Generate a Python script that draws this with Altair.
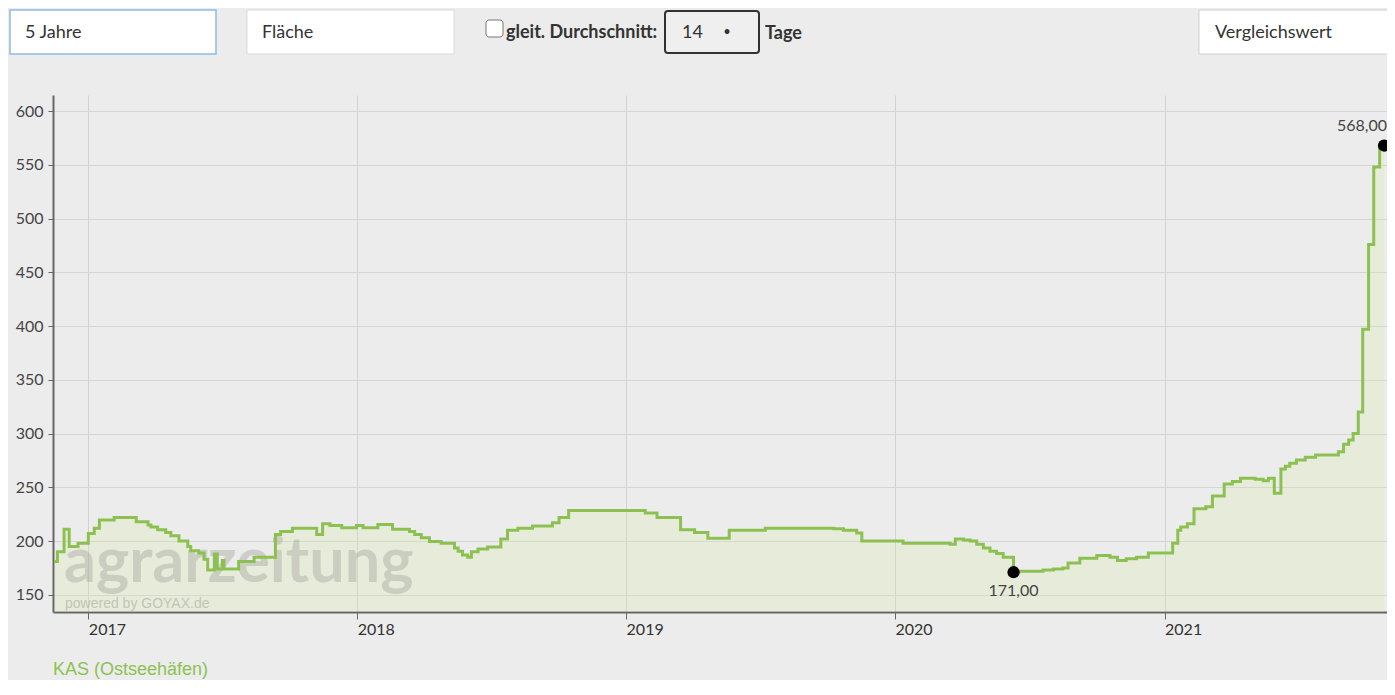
import altair as alt
import pandas as pd

# ---------------- data ----------------
dates = [
    "2016-11-16", "2016-11-20", "2016-11-29", "2016-12-06", "2016-12-18",
    "2017-01-01", "2017-01-09", "2017-01-16", "2017-02-05", "2017-03-07",
    "2017-03-23", "2017-03-27", "2017-04-05", "2017-04-16", "2017-04-23",
    "2017-05-04", "2017-05-16", "2017-05-20", "2017-05-31", "2017-06-07",
    "2017-06-12", "2017-06-21", "2017-06-25", "2017-07-02", "2017-07-04",
    "2017-07-24", "2017-08-14", "2017-09-12", "2017-09-19", "2017-10-05",
    "2017-11-07", "2017-11-15", "2017-11-25", "2017-12-11", "2017-12-31",
    "2018-01-09", "2018-01-29", "2018-02-18", "2018-03-13", "2018-03-20",
    "2018-03-29", "2018-04-09", "2018-04-25", "2018-05-13", "2018-05-18",
    "2018-05-24", "2018-05-31", "2018-06-05", "2018-06-14", "2018-06-27",
    "2018-07-15", "2018-07-24", "2018-08-07", "2018-08-27", "2018-09-23",
    "2018-10-02", "2018-10-15", "2019-01-27", "2019-02-12", "2019-03-16",
    "2019-04-04", "2019-04-22", "2019-05-21", "2019-07-09", "2019-10-10",
    "2019-10-23", "2019-11-10", "2019-11-17", "2020-01-12", "2020-03-16",
    "2020-03-23", "2020-04-03", "2020-04-12", "2020-04-21", "2020-04-30",
    "2020-05-09", "2020-05-18", "2020-05-27", "2020-06-10", "2020-06-17",
    "2020-07-20", "2020-08-03", "2020-08-16", "2020-08-23", "2020-09-08",
    "2020-10-01", "2020-10-19", "2020-10-29", "2020-11-10", "2020-11-24",
    "2020-12-10", "2021-01-12", "2021-01-19", "2021-01-23", "2021-02-01",
    "2021-02-10", "2021-02-26", "2021-03-07", "2021-03-23", "2021-04-03",
    "2021-04-14", "2021-05-04", "2021-05-15", "2021-05-22", "2021-05-30",
    "2021-06-08", "2021-06-14", "2021-06-20", "2021-06-29", "2021-07-11",
    "2021-07-25", "2021-08-25", "2021-09-01", "2021-09-08", "2021-09-14",
    "2021-09-21", "2021-09-27", "2021-10-05", "2021-10-12", "2021-10-20",
    "2021-10-26",
]
prices = [
    181, 190, 211, 195, 198,
    207, 212, 219.5, 222, 218,
    215, 213, 210.5, 208, 205,
    200, 195, 191, 189, 183,
    173, 188, 174, 182, 174,
    181, 185, 206, 209, 212,
    206, 216, 214.5, 212.5, 214.5,
    212.5, 215.5, 211, 209, 206,
    203, 199.5, 198, 193.5, 190.5,
    187, 185, 190, 192.5, 194.5,
    202, 210, 212, 214, 217,
    222, 228.5, 226, 222, 210.5,
    208, 202.5, 210, 212, 211.5,
    210, 207.5, 200, 198, 197,
    202, 201, 200, 197, 193.5,
    190.5, 188.5, 185, 171, 172,
    173, 174, 175, 179.5, 184,
    186.5, 185, 182, 183.5, 185,
    189, 198, 210, 213, 216,
    230, 232, 242, 253, 255.5,
    258.5, 257.5, 256, 258.5, 244.5,
    267, 269.5, 272.5, 275.5, 278,
    280, 283, 290, 294, 300,
    320, 397, 476, 548, 566,
    568,
]
series_name = "KAS (Ostseehäfen)"
year_ticks = [2017, 2018, 2019, 2020, 2021]
y_ticks = [150, 200, 250, 300, 350, 400, 450, 500, 550, 600]
marker_dates = ["2020-06-10", "2021-10-26"]
marker_prices = [171, 568]
marker_labels = ["171,00", "568,00"]
watermark_text = "agrarzeitung"
watermark_sub = "powered by GOYAX.de"
control_texts = ["5 Jahre", "Fläche", "gleit. Durchschnitt:", "14", "•", "Tage", "Vergleichswert"]

GREEN = "#8cc152"
FONT = "Lato"

df = pd.DataFrame({"date": dates, "price": prices})
markers = pd.DataFrame({"date": marker_dates, "price": marker_prices, "label": marker_labels})

x_enc = alt.X(
    "date:T",
    scale=alt.Scale(
        type="utc",
        domain=[alt.DateTime(year=2016, month=11, date=14, utc=True),
                alt.DateTime(year=2021, month=10, date=30, utc=True)],
    ),
    axis=alt.Axis(
        title=None,
        values=[alt.DateTime(year=y, month=1, date=1, utc=True) for y in year_ticks],
        format="%Y", labelAlign="left", labelBaseline="top", labelFlush=False,
        labelOverlap=False, labelFont=FONT, labelFontSize=16, labelColor="#333",
        labelPadding=2, labelOffset=0, tickSize=7, tickColor="#666",
        domainColor="#666", domainWidth=2, gridColor="#d2d2d2", grid=True,
    ),
)
y_enc = alt.Y(
    "price:Q",
    scale=alt.Scale(domain=[134, 615], zero=False, nice=False),
    axis=alt.Axis(
        title=None, values=y_ticks, labelFont=FONT, labelFontSize=16,
        labelColor="#444", labelPadding=5, tickSize=5, tickColor="#666",
        domainColor="#666", domainWidth=2, gridColor="#d6d6d6", grid=True,
    ),
)

base = alt.Chart(df).encode(x=x_enc, y=y_enc)
area = base.mark_area(interpolate="step-after", fill="#d6ec9c", fillOpacity=0.22, clip=True)
line = base.mark_line(interpolate="step-after", color=GREEN, strokeWidth=3)


def one(text):
    return pd.DataFrame({"t": [text]})


wm = alt.Chart(one(watermark_text)).mark_text(
    align="left", baseline="alphabetic", font=FONT,
    fontWeight="bold", fontSize=63, color="#a3a49a", opacity=0.42,
).encode(text="t:N", x=alt.value(11), y=alt.value(487))
wm_sub = alt.Chart(one(watermark_sub)).mark_text(
    align="left", baseline="alphabetic", font="Liberation Sans, Arial, sans-serif",
    fontSize=14, color="#a9aaa0", opacity=0.6,
).encode(text="t:N", x=alt.value(12), y=alt.value(513))

pts = alt.Chart(markers).mark_circle(size=150, color="black", opacity=1).encode(
    x=alt.X("date:T"), y=alt.Y("price:Q"))
lo_label = alt.Chart(markers.iloc[[0]]).mark_text(
    align="center", baseline="top", dy=11, font=FONT, fontSize=16, color="#444",
).encode(x="date:T", y="price:Q", text="label:N")
hi_label = alt.Chart(markers.iloc[[1]]).mark_text(
    align="right", baseline="alphabetic", dx=3, dy=-15, font=FONT, fontSize=16, color="#444",
).encode(x="date:T", y="price:Q", text="label:N")

legend_text = alt.Chart(one(series_name)).mark_text(
    align="left", baseline="middle", font="Liberation Sans, Arial, sans-serif",
    fontSize=18, color=GREEN,
).encode(text="t:N", x=alt.value(0), y=alt.value(575))


def box(x1, x2, y1, y2, fill, stroke, sw=1, r=0):
    return alt.Chart(one("")).mark_rect(
        fill=fill, stroke=stroke, strokeWidth=sw, cornerRadius=r,
    ).encode(x=alt.value(x1), x2=alt.value(x2), y=alt.value(y1), y2=alt.value(y2))


def label(text, x, y, bold=False, align="left", size=18):
    return alt.Chart(one(text)).mark_text(
        align=align, baseline="middle", font=FONT, fontSize=size,
        fontWeight="bold" if bold else "normal", color="#333",
    ).encode(text="t:N", x=alt.value(x), y=alt.value(y))


controls = [
    box(-43, 163, -85, -41, "white", "#8fbbe6", 1.5),
    label(control_texts[0], -28, -62),
    box(194, 401, -85, -41, "white", "#d9d9d9", 1),
    label(control_texts[1], 209, -62),
    box(433, 450, -75, -58, "white", "#777", 1, 3),
    label(control_texts[2], 453, -62, bold=True),
    box(612, 706, -84, -42, "#efefef", "#333", 2, 3),
    label(control_texts[3], 629, -62),
    label(control_texts[4], 674, -63, align="center", size=13),
    label(control_texts[5], 712, -61, bold=True),
    box(1146, 1360, -85, -41, "white", "#d0d0d0", 1),
    label(control_texts[6], 1162, -62),
]

chart = alt.layer(
    area, wm, wm_sub, line, pts, lo_label, hi_label, legend_text, *controls
).properties(
    width=1334,
    height=517,
    padding={"left": 45, "top": 87, "right": 0, "bottom": 68},
    autosize=alt.AutoSizeParams(type="none"),
    background="#ececec",
).configure_view(stroke=None)

chart.save("out.html", embed_options={"renderer": "svg", "actions": False})
